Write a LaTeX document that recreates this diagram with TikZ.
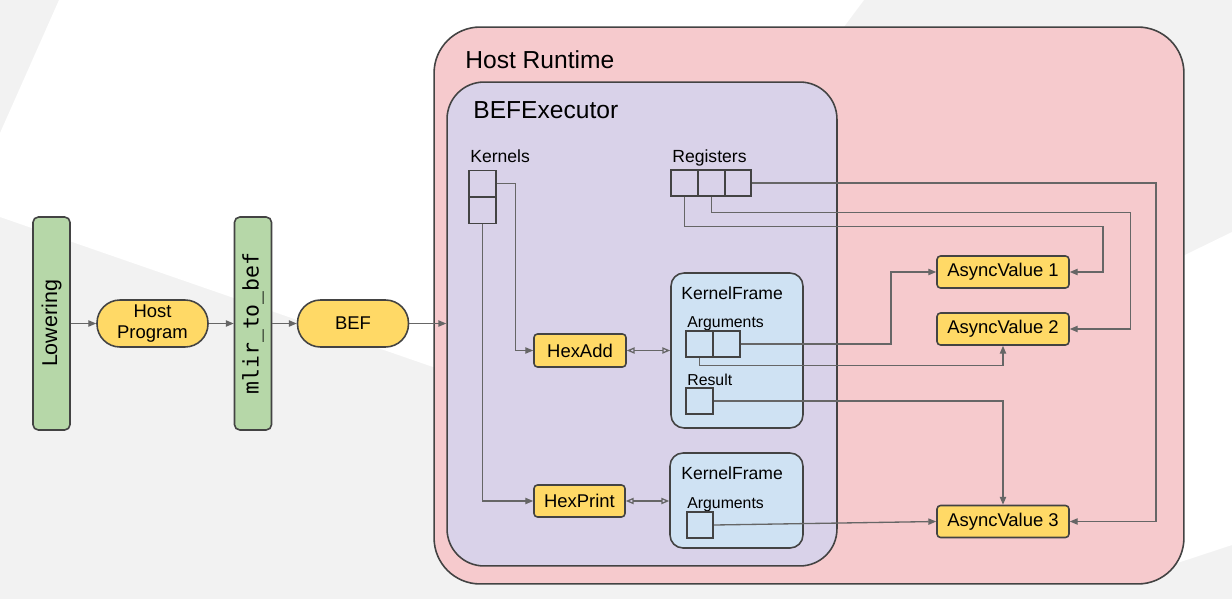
\documentclass[tikz,border=0pt]{standalone}
\usepackage{fontspec}
\setmainfont{Liberation Sans}
\newfontfamily\codefont{DejaVu Sans Mono}
\usepackage{tikz}
\usetikzlibrary{positioning,calc,arrows.meta}

\definecolor{bggray}{HTML}{F2F2F2}
\definecolor{hostpink}{HTML}{F6CACD}
\definecolor{execpurple}{HTML}{D9D2E9}
\definecolor{frameblue}{HTML}{CFE2F3}
\definecolor{boxyellow}{HTML}{FFD966}
\definecolor{bargreen}{HTML}{B6D7A8}
\definecolor{edgegray}{HTML}{434343}
\definecolor{wiregray}{HTML}{666666}

\begin{document}
\begin{tikzpicture}[x=0.02cm,y=-0.02cm,
    outline/.style={draw=edgegray,line width=0.9pt},
    container/.style={outline,inner sep=0pt},
    cell/.style={outline,minimum width=0.53cm,minimum height=0.52cm,inner sep=0pt},
    yellowbox/.style={outline,fill=boxyellow,rounded corners=2pt,inner sep=0pt,font=\fontsize{10.5}{12}\selectfont},
    pill/.style={outline,fill=boxyellow,rounded corners=0.46cm,minimum width=2.22cm,minimum height=0.94cm,inner sep=0pt,align=center,font=\fontsize{10.5}{12}\selectfont},
    greenbar/.style={outline,fill=bargreen,rounded corners=3pt,rotate=90,minimum width=4.26cm,minimum height=0.74cm,inner sep=0pt},
    lbl/.style={anchor=base west,inner sep=0pt,font=\fontsize{10}{12}\selectfont},
    wire/.style={draw=wiregray,line width=0.75pt},
    arr/.style={wire,-{Triangle[length=4.5pt,width=3.6pt]}},
    dbl/.style={wire,{Triangle[open,length=4.5pt,width=3.6pt]}-{Triangle[open,length=4.5pt,width=3.6pt]}}
]
    \useasboundingbox (0,0) rectangle (1232,599);
    % background
    \fill[bggray] (0,0) rectangle (1232,599);
    \fill[white] (59,0) -- (864,0) -- (640,300) -- (433,367) -- (0,217) -- (0,133) -- cycle;
    \fill[white] (1150,272) -- (1232,232) -- (1232,545) -- (1150,572) -- cycle;

    % containers
    \node[container,fill=hostpink,rounded corners=0.92cm,minimum width=15cm,minimum height=11.14cm] (host) at (809,305.5) {};
    \node[container,fill=execpurple,rounded corners=0.74cm,minimum width=7.8cm,minimum height=9.68cm] (exec) at (642,324) {};
    \node[container,fill=frameblue,rounded corners=0.26cm,minimum width=2.64cm,minimum height=3.1cm] (kf1) at (737,350.5) {};
    \node[container,fill=frameblue,rounded corners=0.26cm,minimum width=2.66cm,minimum height=1.9cm] (kf2) at (736.5,500.5) {};

    % Labels
    \node[lbl,font=\fontsize{14}{16}\selectfont] (hosttxt) at (465,68) {Host Runtime};
    \node[lbl,font=\fontsize{14}{16}\selectfont] (exectxt) at (473,118) {BEFExecutor};
    \node[lbl] (kerntxt) at (470,162) {Kernels};
    \node[lbl] (regtxt) at (672,162) {Registers};
    \node[lbl] (kf1txt) at (681,299) {KernelFrame};
    \node[lbl] (kf2txt) at (681,479) {KernelFrame};
    \node[lbl,font=\fontsize{9}{11}\selectfont] (arg1txt) at (687,327) {Arguments};
    \node[lbl,font=\fontsize{9}{11}\selectfont] (restxt) at (687,385) {Result};
    \node[lbl,font=\fontsize{9}{11}\selectfont] (arg2txt) at (687,508) {Arguments};

    % cells
    \node[cell] (k1) at (482.5,183.5) {};
    \node[cell] (k2) at (482.5,210.5) {};
    \foreach \i/\x in {1/684.5,2/711.2,3/738} {
        \node[cell] (r\i) at (\x,183) {};
    }
    \node[cell] (a1) at (699.5,344) {};
    \node[cell] (a2) at (726.8,344) {};
    \node[cell] (res) at (699.5,401) {};
    \node[cell] (a3) at (700,525) {};

    % kernels and values
    \node[yellowbox,minimum width=1.84cm,minimum height=0.66cm] (hexadd) at (580,350.5) {HexAdd};
    \node[yellowbox,minimum width=1.82cm,minimum height=0.64cm] (hexprint) at (579.5,501) {HexPrint};
    \foreach \i/\y in {1/272,2/329,3/521.5} {
        \node[yellowbox,minimum width=2.64cm,minimum height=0.64cm] (av\i) at (1003,\y) {AsyncValue \i};
    }

    % pipeline
    \node[greenbar,font=\fontsize{12.2}{14}\selectfont] (lower) at (51.5,323.5) {Lowering};
    \node[pill] (hprog) at (152.5,323.5) {Host\\Program};
    \node[greenbar,font=\codefont\fontsize{12.2}{14}\selectfont] (mlir) at (253,323.5) {mlir\_to\_bef};
    \node[pill] (bef) at (353,323.5) {BEF};

    \draw[arr] (lower) -- (hprog);
    \draw[arr] (hprog) -- (mlir);
    \draw[arr] (mlir) -- (bef);
    \draw[arr] (bef) -- (bef -| exec.west);

    % connectors
    \draw[arr] (k1.east) -- ++(19,0) |- (hexadd.west);
    \draw[arr] (k2.south) |- (hexprint.west);
    \draw[dbl] (hexadd.east) -- (hexadd.east -| kf1.west);
    \draw[dbl] (hexprint.east) -- (hexprint.east -| kf2.west);
    \draw[arr] (r3.east) -- ++(404,0) |- (av3.east);
    \draw[arr] (r2.south) |- ++(419,16) |- (av2.east);
    \draw[arr] (r1.south) |- ++(418.5,30) |- (av1.east);
    \draw[arr] (a2.east) -- ++(150,0) |- (av1.west);
    \draw[arr] (a1.south) -- ++(0,8) -| (av2.south);
    \draw[arr] (res.east) -| (av3.north);
    \draw[arr] (a3.east) -- (av3.west);
\end{tikzpicture}
\end{document}
